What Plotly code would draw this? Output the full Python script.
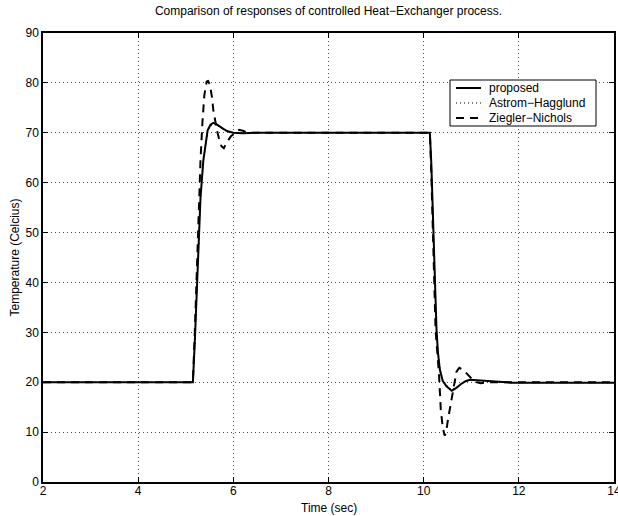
import plotly.graph_objects as go

# ---- data ----
t_prop = [2.0, 5.15, 5.19, 5.23, 5.27, 5.31, 5.37, 5.42, 5.46, 5.52, 5.58, 5.65, 5.72, 5.79, 5.88, 6.0, 6.2, 6.5, 8.0,
          10.13, 10.16, 10.19, 10.23, 10.27, 10.30, 10.34, 10.40, 10.48, 10.59, 10.68, 10.78, 10.88, 10.97, 11.1, 11.32, 11.6, 11.85, 14.0]
y_prop = [20, 20, 28, 38, 48, 57, 64.5, 68.5, 70.5, 71.6, 72.0, 71.7, 71.2, 70.8, 70.3, 70.0, 69.9, 70.0, 70.0,
          70, 64, 55, 40, 30.5, 26, 22.5, 20.3, 19.2, 18.3, 18.8, 19.6, 20.2, 20.5, 20.4, 20.2, 20.0, 19.9, 19.9]

t_ah = [2.0, 5.15, 5.19, 5.23, 5.27, 5.31, 5.37, 5.42, 5.46, 5.52, 5.58, 5.65, 5.72, 5.79, 5.88, 6.0, 6.2, 6.5, 8.0,
        10.13, 10.16, 10.19, 10.23, 10.27, 10.30, 10.34, 10.40, 10.48, 10.59, 10.68, 10.78, 10.88, 10.97, 11.1, 11.32, 11.6, 11.85, 14.0]
y_ah = [20, 20, 27.5, 37.5, 47.5, 56.5, 64, 68.2, 70.3, 71.3, 71.7, 71.5, 71.0, 70.6, 70.2, 70.0, 69.9, 70.0, 70.0,
        70, 64.5, 55.5, 40.5, 31, 26.5, 23, 20.5, 19.4, 18.5, 19.0, 19.7, 20.2, 20.4, 20.3, 20.1, 20.0, 19.9, 19.9]

t_zn = [2.0, 5.15, 5.19, 5.23, 5.27, 5.31, 5.35, 5.39, 5.44, 5.47, 5.51, 5.55, 5.58, 5.62, 5.66, 5.70, 5.75, 5.80,
        5.87, 5.95, 6.03, 6.12, 6.20, 6.30, 8.0,
        10.13, 10.16, 10.19, 10.22, 10.25, 10.29, 10.32, 10.36, 10.40, 10.44, 10.47, 10.51, 10.55, 10.59, 10.64,
        10.69, 10.75, 10.81, 10.88, 10.95, 11.03, 11.12, 11.20, 11.35, 14.0]
y_zn = [20, 20, 30, 42, 53, 64.5, 72, 77.5, 80.3, 80.4, 79.5, 77.2, 74.5, 72.0, 70.3, 68.8, 67.3, 66.9,
        68.2, 69.3, 70.0, 70.6, 70.4, 70.0, 70.0,
        70, 62, 50, 39, 30.5, 25.5, 22, 14.5, 11, 9.3, 9.8, 12.5, 14.8, 17.0, 20.0,
        22.1, 22.9, 22.6, 22.0, 21.3, 20.5, 20.0, 19.8, 20.0, 20.0]

x_ticks = [2, 4, 6, 8, 10, 12, 14]
y_ticks = [0, 10, 20, 30, 40, 50, 60, 70, 80, 90]

series_names = ["proposed", "Astrom\u2212Hagglund", "Ziegler\u2212Nichols"]

FONT = "Liberation Sans, Arial, Helvetica, sans-serif"
W, H = 618, 516
ML, MR, MT, MB = 43, 4, 33, 34
PW, PH = W - ML - MR, H - MT - MB

styles = [dict(color="black", width=2),
          dict(color="black", width=1, dash="1px,3px"),
          dict(color="black", width=2, dash="8px,6px")]


def px_x(p):
    return (p - ML) / PW


def px_y(p):
    return (H - MB - p) / PH


fig = go.Figure()
for (tx, ty), name, st in zip([(t_prop, y_prop), (t_ah, y_ah), (t_zn, y_zn)], series_names, styles):
    fig.add_trace(go.Scatter(x=tx, y=ty, mode="lines", name=name, line=st, showlegend=False))

axis_common = dict(
    showline=True, linecolor="black", linewidth=1.5, mirror="ticks",
    ticks="inside", ticklen=5, tickwidth=1, tickcolor="black",
    showgrid=True, gridcolor="rgba(0,0,0,0.7)", gridwidth=1, griddash="1px,3px",
    zeroline=False, tickfont=dict(family=FONT, size=12, color="black"),
    automargin=False, ticklabeloverflow="allow",
)

fig.update_xaxes(range=[2, 14], tickvals=x_ticks, ticktext=[str(v) for v in x_ticks],
                 ticklabelstandoff=-3, **axis_common)
fig.update_yaxes(range=[0, 90], tickvals=y_ticks, ticktext=[str(v) for v in y_ticks], **axis_common)

# Legend drawn as box + sample lines + labels (MATLAB-style compact legend)
box_l, box_r, box_t, box_b = 450, 596, 80, 126
row_y = [88, 103, 118]
shapes = [dict(type="rect", xref="paper", yref="paper",
               x0=px_x(box_l), x1=px_x(box_r), y0=px_y(box_b), y1=px_y(box_t),
               line=dict(color="black", width=1), fillcolor="white", layer="above")]
annotations = []
for ry, name, st in zip(row_y, series_names, styles):
    shapes.append(dict(type="line", xref="paper", yref="paper",
                       x0=px_x(456), x1=px_x(481), y0=px_y(ry), y1=px_y(ry),
                       line=dict(color=st["color"], width=st["width"], dash=st.get("dash", "solid")),
                       layer="above"))
    annotations.append(dict(text=name, x=px_x(487), y=px_y(ry), xref="paper", yref="paper",
                            xanchor="left", yanchor="middle", showarrow=False,
                            font=dict(family=FONT, size=12, color="black")))

annotations += [
    dict(text="Time (sec)", x=0.5, y=px_y(508), xref="paper", yref="paper",
         xanchor="center", yanchor="middle", showarrow=False,
         font=dict(family=FONT, size=12, color="black")),
    dict(text="Temperature (Celcius)", x=px_x(14), y=0.5, xref="paper", yref="paper",
         xanchor="center", yanchor="middle", textangle=-90, showarrow=False,
         font=dict(family=FONT, size=12, color="black")),
]

fig.update_layout(
    width=W, height=H,
    margin=dict(l=ML, r=MR, t=MT, b=MB, pad=0),
    paper_bgcolor="white", plot_bgcolor="white",
    font=dict(family=FONT, size=12, color="black"),
    title=dict(text="Comparison of responses of controlled Heat\u2212Exchanger process.",
               x=0.5, xref="paper", xanchor="center", y=1 - 11 / H, yref="container", yanchor="middle",
               font=dict(family=FONT, size=12, color="black")),
    showlegend=False,
    shapes=shapes,
    annotations=annotations,
)

fig.write_html("out.html")
